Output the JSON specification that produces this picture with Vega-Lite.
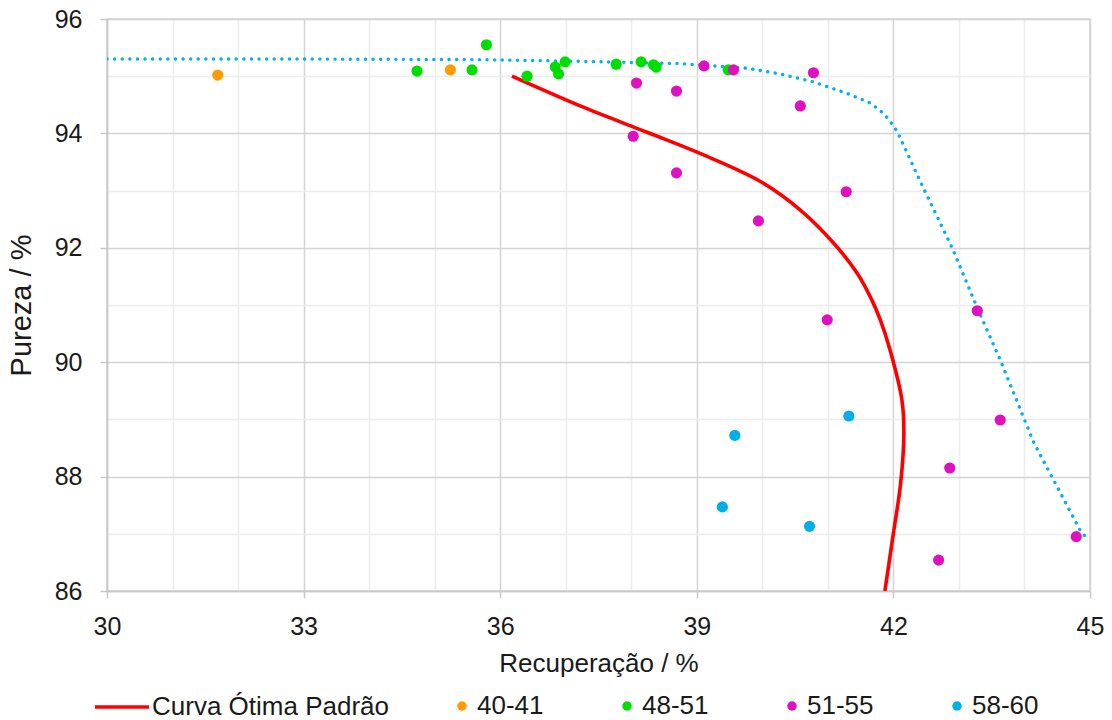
{
  "$schema": "https://vega.github.io/schema/vega-lite/v6.json",
  "width": 983,
  "height": 572,
  "autosize": {"type": "none"},
  "padding": {"left": 107, "top": 19, "right": 22, "bottom": 129},
  "background": "white",
  "config": {
    "font": "Liberation Sans",
    "view": {"stroke": "#d4d4d4", "strokeWidth": 1.5},
    "axis": {
      "labelFont": "Liberation Sans",
      "titleFont": "Liberation Sans",
      "labelFontSize": 25,
      "titleFontSize": 26,
      "labelColor": "#1a1a1a",
      "titleColor": "#1a1a1a",
      "titleFontWeight": "normal",
      "domainColor": "#c8c8c8",
      "domainWidth": 1.5,
      "tickColor": "#c8c8c8",
      "tickWidth": 1.5,
      "tickSize": 7,
      "gridWidth": 1.5
    },
    "legend": {
      "padding": 0,
      "labelFont": "Liberation Sans",
      "labelFontSize": 26,
      "labelColor": "#1a1a1a",
      "labelLimit": 400
    }
  },
  "datasets": {
    "pontos": [
      {"recuperacao": 31.69, "pureza": 95.02, "grupo": "40-41"},
      {"recuperacao": 35.24, "pureza": 95.11, "grupo": "40-41"},
      {"recuperacao": 34.73, "pureza": 95.09, "grupo": "48-51"},
      {"recuperacao": 35.57, "pureza": 95.11, "grupo": "48-51"},
      {"recuperacao": 35.79, "pureza": 95.55, "grupo": "48-51"},
      {"recuperacao": 36.41, "pureza": 95.00, "grupo": "48-51"},
      {"recuperacao": 36.84, "pureza": 95.16, "grupo": "48-51"},
      {"recuperacao": 36.89, "pureza": 95.04, "grupo": "48-51"},
      {"recuperacao": 36.99, "pureza": 95.25, "grupo": "48-51"},
      {"recuperacao": 37.77, "pureza": 95.21, "grupo": "48-51"},
      {"recuperacao": 38.15, "pureza": 95.25, "grupo": "48-51"},
      {"recuperacao": 38.34, "pureza": 95.20, "grupo": "48-51"},
      {"recuperacao": 38.38, "pureza": 95.16, "grupo": "48-51"},
      {"recuperacao": 39.48, "pureza": 95.11, "grupo": "48-51"},
      {"recuperacao": 38.08, "pureza": 94.88, "grupo": "51-55"},
      {"recuperacao": 38.69, "pureza": 94.74, "grupo": "51-55"},
      {"recuperacao": 39.11, "pureza": 95.18, "grupo": "51-55"},
      {"recuperacao": 39.56, "pureza": 95.11, "grupo": "51-55"},
      {"recuperacao": 40.78, "pureza": 95.06, "grupo": "51-55"},
      {"recuperacao": 40.58, "pureza": 94.48, "grupo": "51-55"},
      {"recuperacao": 38.03, "pureza": 93.95, "grupo": "51-55"},
      {"recuperacao": 38.69, "pureza": 93.31, "grupo": "51-55"},
      {"recuperacao": 39.94, "pureza": 92.47, "grupo": "51-55"},
      {"recuperacao": 41.28, "pureza": 92.98, "grupo": "51-55"},
      {"recuperacao": 40.99, "pureza": 90.74, "grupo": "51-55"},
      {"recuperacao": 43.28, "pureza": 90.90, "grupo": "51-55"},
      {"recuperacao": 43.63, "pureza": 88.99, "grupo": "51-55"},
      {"recuperacao": 42.86, "pureza": 88.15, "grupo": "51-55"},
      {"recuperacao": 42.69, "pureza": 86.54, "grupo": "51-55"},
      {"recuperacao": 44.79, "pureza": 86.95, "grupo": "51-55"},
      {"recuperacao": 41.32, "pureza": 89.06, "grupo": "58-60"},
      {"recuperacao": 39.58, "pureza": 88.72, "grupo": "58-60"},
      {"recuperacao": 39.39, "pureza": 87.47, "grupo": "58-60"},
      {"recuperacao": 40.72, "pureza": 87.13, "grupo": "58-60"}
    ],
    "curva": [
      {"ordem": 1, "recuperacao": 36.18, "pureza": 95.00, "grupo": "Curva Ótima Padrão"},
      {"ordem": 2, "recuperacao": 37.22, "pureza": 94.48, "grupo": "Curva Ótima Padrão"},
      {"ordem": 3, "recuperacao": 38.24, "pureza": 94.02, "grupo": "Curva Ótima Padrão"},
      {"ordem": 4, "recuperacao": 39.05, "pureza": 93.65, "grupo": "Curva Ótima Padrão"},
      {"ordem": 5, "recuperacao": 39.97, "pureza": 93.16, "grupo": "Curva Ótima Padrão"},
      {"ordem": 6, "recuperacao": 40.58, "pureza": 92.66, "grupo": "Curva Ótima Padrão"},
      {"ordem": 7, "recuperacao": 41.09, "pureza": 92.08, "grupo": "Curva Ótima Padrão"},
      {"ordem": 8, "recuperacao": 41.45, "pureza": 91.55, "grupo": "Curva Ótima Padrão"},
      {"ordem": 9, "recuperacao": 41.67, "pureza": 91.09, "grupo": "Curva Ótima Padrão"},
      {"ordem": 10, "recuperacao": 41.80, "pureza": 90.74, "grupo": "Curva Ótima Padrão"},
      {"ordem": 11, "recuperacao": 41.95, "pureza": 90.21, "grupo": "Curva Ótima Padrão"},
      {"ordem": 12, "recuperacao": 42.13, "pureza": 89.34, "grupo": "Curva Ótima Padrão"},
      {"ordem": 13, "recuperacao": 42.16, "pureza": 88.76, "grupo": "Curva Ótima Padrão"},
      {"ordem": 14, "recuperacao": 42.11, "pureza": 87.88, "grupo": "Curva Ótima Padrão"},
      {"ordem": 15, "recuperacao": 42.00, "pureza": 87.01, "grupo": "Curva Ótima Padrão"},
      {"ordem": 16, "recuperacao": 41.87, "pureza": 86.00, "grupo": "Curva Ótima Padrão"}
    ],
    "limite": [
      {"ordem": 1, "recuperacao": 30.00, "pureza": 95.30},
      {"ordem": 2, "recuperacao": 33.00, "pureza": 95.30},
      {"ordem": 3, "recuperacao": 35.69, "pureza": 95.29},
      {"ordem": 4, "recuperacao": 37.22, "pureza": 95.26},
      {"ordem": 5, "recuperacao": 38.75, "pureza": 95.22},
      {"ordem": 6, "recuperacao": 39.77, "pureza": 95.14},
      {"ordem": 7, "recuperacao": 40.27, "pureza": 95.04},
      {"ordem": 8, "recuperacao": 40.78, "pureza": 94.90},
      {"ordem": 9, "recuperacao": 41.29, "pureza": 94.70},
      {"ordem": 10, "recuperacao": 41.65, "pureza": 94.53},
      {"ordem": 11, "recuperacao": 41.85, "pureza": 94.35},
      {"ordem": 12, "recuperacao": 41.99, "pureza": 94.15},
      {"ordem": 13, "recuperacao": 42.06, "pureza": 94.03},
      {"ordem": 14, "recuperacao": 42.41, "pureza": 93.16},
      {"ordem": 15, "recuperacao": 42.90, "pureza": 91.99},
      {"ordem": 16, "recuperacao": 43.28, "pureza": 90.95},
      {"ordem": 17, "recuperacao": 43.63, "pureza": 90.04},
      {"ordem": 18, "recuperacao": 44.14, "pureza": 88.60},
      {"ordem": 19, "recuperacao": 44.85, "pureza": 87.06},
      {"ordem": 20, "recuperacao": 44.93, "pureza": 86.95}
    ]
  },
  "encoding": {
    "x": {
      "field": "recuperacao",
      "type": "quantitative",
      "scale": {"domain": [30, 45], "nice": false, "zero": false},
      "axis": {
        "title": "Recuperação / %",
        "values": [30, 31, 32, 33, 34, 35, 36, 37, 38, 39, 40, 41, 42, 43, 44, 45],
        "format": "d",
        "labelExpr": "datum.value % 3 === 0 ? datum.label : ''",
        "grid": true,
        "gridColor": {"condition": {"test": "datum.value % 3 === 0", "value": "#d4d4d4"}, "value": "#ececec"},
        "tickOpacity": {"condition": {"test": "datum.value % 3 === 0", "value": 1}, "value": 0},
        "labelPadding": 16,
        "titlePadding": 11,
        "labelFlush": false
      }
    },
    "y": {
      "field": "pureza",
      "type": "quantitative",
      "scale": {"domain": [86, 96], "nice": false, "zero": false},
      "axis": {
        "title": "Pureza / %",
        "titleFontSize": 29,
        "values": [86, 86.5, 87, 87.5, 88, 88.5, 89, 89.5, 90, 90.5, 91, 91.5, 92, 92.5, 93, 93.5, 94, 94.5, 95, 95.5, 96],
        "format": "d",
        "labelExpr": "datum.value % 2 === 0 ? datum.label : ''",
        "grid": true,
        "gridColor": {"condition": {"test": "datum.value % 2 === 0", "value": "#d4d4d4"}, "value": "#ececec"},
        "tickOpacity": {"condition": {"test": "datum.value % 2 === 0", "value": 1}, "value": 0},
        "labelPadding": 18,
        "titlePadding": 18,
        "labelFlush": false
      }
    }
  },
  "layer": [
    {
      "data": {"name": "limite"},
      "mark": {"type": "line", "color": "#00b0f0", "strokeWidth": 3.4, "strokeDash": [0.1, 7.5], "strokeCap": "round", "clip": true},
      "encoding": {"order": {"field": "ordem", "type": "quantitative"}}
    },
    {
      "data": {"name": "curva"},
      "mark": {"type": "line", "strokeWidth": 3.6, "interpolate": "catmull-rom", "clip": true},
      "encoding": {
        "order": {"field": "ordem", "type": "quantitative"},
        "stroke": {
          "field": "grupo",
          "type": "nominal",
          "scale": {"domain": ["Curva Ótima Padrão"], "range": ["#ff0000"]},
          "legend": {
            "title": null,
            "orient": "none",
            "direction": "horizontal",
            "legendX": -14,
            "legendY": 659,
            "symbolType": "stroke",
            "symbolSize": 2916,
            "symbolStrokeWidth": 3.6,
            "labelOffset": 1
          }
        }
      }
    },
    {
      "data": {"name": "pontos"},
      "mark": {"type": "circle", "size": 125, "opacity": 1},
      "encoding": {
        "fill": {
          "field": "grupo",
          "type": "nominal",
          "scale": {
            "domain": ["40-41", "48-51", "51-55", "58-60"],
            "range": ["#ff9a00", "#00dd00", "#e00fc0", "#00aee8"]
          },
          "legend": {
            "title": null,
            "orient": "none",
            "direction": "horizontal",
            "legendX": 342,
            "legendY": 674,
            "symbolType": "circle",
            "symbolSize": 90,
            "labelOffset": 2,
            "columnPadding": 70
          }
        }
      }
    }
  ]
}
